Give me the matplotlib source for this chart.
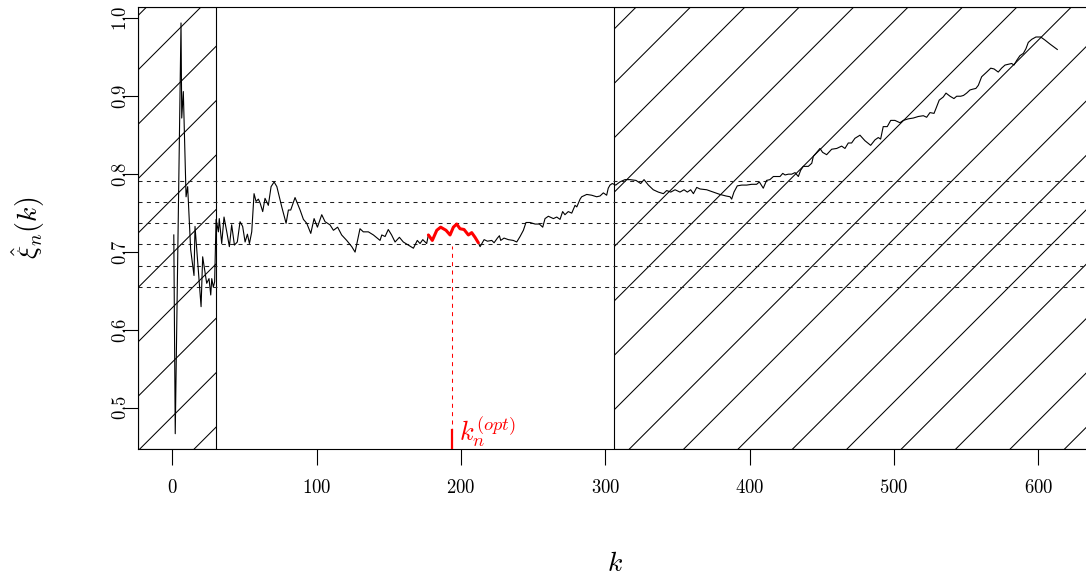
import numpy as np
import matplotlib
matplotlib.use('Agg')
import matplotlib.pyplot as plt
from matplotlib.patches import Rectangle

plt.rcParams['mathtext.fontset'] = 'cm'
plt.rcParams['lines.scale_dashes'] = False

# ---------------- data ----------------
k = [1, 2, 6, 6.5, 7.6, 9.5, 10.6, 12.7, 15, 15.7, 19.9, 21, 23.8, 25.4, 26.6, 27.3, 28.4, 29.3, 30.3,
     31.9, 32.5, 34.2, 35.8, 37.7, 39.5, 41.1, 43, 45, 46.9, 48.7, 50.4, 52, 53.4, 55, 56.6, 58, 59.6,
     60.8, 62.6, 64.2, 66.5, 68.4, 70.5, 72.4, 75.8, 78.8, 80.4, 82, 85, 88.5, 90.8, 93.1, 95.9, 98.2,
     100.5, 103.5, 105.8, 109.2, 111.6, 114.5, 117.3, 120.8, 124.3, 126.6, 130, 132.3, 135.8, 139.3,
     143.9, 145.1, 147.4, 149.6, 151.9, 154.3, 157.3, 160, 163.5, 167, 169.7, 171.6, 173.5, 176.2,
     177.4, 180.1, 183.2, 185.9, 189.6, 192.4, 194.7, 197, 199.3, 202.1, 205.1, 207.4, 209.7, 212,
     213.2, 216, 218.3, 221.3, 222.9, 225.2, 226.6, 227.5, 229.8, 232.8, 236.2, 238.6, 240.9, 243.2,
     245, 247.8, 251.3, 254.3, 256.6, 258.2, 260.5, 264, 266.3, 268.6, 270.4, 272, 274.3, 276.7, 279,
     280.2, 282.5, 283.6, 287.1, 290.5, 294, 296.3, 298.6, 300.9, 302, 303.2, 304.8, 307.2, 310,
     313.6, 317, 321.2, 324.5, 326.8, 329.8, 333.2, 336.7, 340.2, 342.5, 345.3, 348.3, 351.7, 354.5,
     356.8, 359.1, 361, 363.3, 365.6, 370.2, 374.8, 379.4, 383.6, 386.4, 387.5, 389.1, 391.4, 394.5,
     397.9, 401.4, 404.8, 406.7, 409.4, 411.7, 414, 416.4, 418.7, 421, 422.9, 424.5, 426.8, 429.1,
     431.4, 433.7, 435.3, 437.1, 440.6, 443, 444.1, 446, 448.7, 450.5, 453.3, 456.8, 460.3, 463.7,
     466, 468.3, 470.6, 472.9, 476.4, 479.8, 483.8, 486.8, 489.1, 490.7, 492.5, 495.3, 497.7, 500.6,
     504.1, 506.4, 509.9, 513.3, 516.8, 520.3, 522.6, 524.9, 527.7, 529, 531.3, 534.1, 536, 538.8,
     541.5, 543.4, 546.2, 548.1, 550.3, 552.6, 554.4, 556.7, 558.4, 560.7, 564.2, 567, 569.3, 572.2,
     574.5, 576.9, 579.2, 581.5, 583.1, 585, 587.2, 589.6, 591.4, 593, 595.4, 598.3, 601.6, 604.6,
     608, 613.1]
xi = [0.722, 0.467, 0.994, 0.872, 0.906, 0.771, 0.784, 0.703, 0.670, 0.733, 0.630, 0.694, 0.660, 0.666,
      0.645, 0.666, 0.655, 0.662, 0.742,
      0.726, 0.743, 0.711, 0.745, 0.726, 0.707, 0.735, 0.709, 0.713, 0.739, 0.733, 0.713, 0.723, 0.711,
      0.726, 0.775, 0.765, 0.768, 0.763, 0.752, 0.769, 0.760, 0.784, 0.790, 0.784, 0.758, 0.737, 0.754,
      0.754, 0.770, 0.754, 0.742, 0.737, 0.724, 0.743, 0.732, 0.748, 0.739, 0.735, 0.728, 0.732, 0.722,
      0.715, 0.707, 0.700, 0.730, 0.726, 0.726, 0.722, 0.715, 0.722, 0.720, 0.729, 0.722, 0.713, 0.719,
      0.713, 0.709, 0.705, 0.715, 0.711, 0.716, 0.711,
      0.722, 0.715, 0.728, 0.732, 0.728, 0.722, 0.732, 0.736, 0.730, 0.729, 0.722, 0.725, 0.719, 0.712,
      0.707, 0.716, 0.714, 0.715, 0.712, 0.718, 0.721, 0.715, 0.718, 0.716, 0.715, 0.713, 0.720, 0.728,
      0.738, 0.738, 0.736, 0.736, 0.732, 0.743, 0.746, 0.743, 0.745, 0.742, 0.752, 0.748, 0.752, 0.750,
      0.760, 0.758, 0.768, 0.771, 0.774, 0.773, 0.771, 0.772, 0.776, 0.773, 0.782, 0.786, 0.788, 0.786,
      0.790, 0.793, 0.793, 0.792, 0.788, 0.793, 0.786, 0.780, 0.777, 0.775, 0.779, 0.777, 0.780, 0.777,
      0.780, 0.777, 0.780, 0.775, 0.783, 0.781, 0.780, 0.777, 0.774, 0.772, 0.771, 0.768, 0.777, 0.785,
      0.786, 0.786, 0.787, 0.787, 0.790, 0.782, 0.792, 0.793, 0.797, 0.797, 0.797, 0.801, 0.799, 0.800,
      0.800, 0.802, 0.797, 0.805, 0.810, 0.810, 0.814, 0.823, 0.827, 0.833, 0.828, 0.825, 0.832, 0.833,
      0.836, 0.833, 0.840, 0.840, 0.846, 0.850, 0.843, 0.837, 0.844, 0.847, 0.845, 0.861, 0.861, 0.869,
      0.869, 0.866, 0.869, 0.871, 0.872, 0.874, 0.875, 0.873, 0.879, 0.878, 0.884, 0.895, 0.899, 0.904,
      0.900, 0.897, 0.900, 0.900, 0.901, 0.904, 0.908, 0.909, 0.910, 0.914, 0.925, 0.931, 0.936, 0.935,
      0.931, 0.936, 0.940, 0.941, 0.942, 0.940, 0.946, 0.952, 0.955, 0.961, 0.969, 0.973, 0.976, 0.976,
      0.972, 0.967, 0.960]
ref_levels = [0.6555, 0.6824, 0.7099, 0.7368, 0.7638, 0.7911]
k_opt = 194
xi_opt_level = 0.708
red_window = (177, 212.5)
left_cut = 30
right_cut = 306
xticks = [0, 100, 200, 300, 400, 500, 600]
xticklabels = ['0', '100', '200', '300', '400', '500', '600']
yticks = [0.5, 0.6, 0.7, 0.8, 0.9, 1.0]
yticklabels = ['0.5', '0.6', '0.7', '0.8', '0.9', '1.0']

# ---------------- figure ----------------
W, H = 1086, 579
fig = plt.figure(figsize=(W / 100, H / 100), dpi=100)
ax_l, ax_r, ax_t, ax_b = 138.0, 1092.5, 7.3, 449.3
ax = fig.add_axes([ax_l / W, (H - ax_b) / H, (ax_r - ax_l) / W, (ax_b - ax_t) / H])
xlim = (-23.8, 637.5)
ylim = (0.447, 1.0141)
ax.set_xlim(*xlim)
ax.set_ylim(*ylim)

for s in ax.spines.values():
    s.set_linewidth(0.8)


def hatch(x0, x1, spacing=54.4, c0=208.0):
    rect = Rectangle((x0, ylim[0]), x1 - x0, ylim[1] - ylim[0], fill=False,
                     edgecolor='black', lw=0.8, zorder=1.5)
    ax.add_patch(rect)
    p0 = ax.transData.transform((x0, ylim[0]))
    p1 = ax.transData.transform((x1, ylim[1]))
    cmin = p0[0] + H - p1[1]
    cmax = p1[0] + H - p0[1]
    inv = ax.transData.inverted()
    n0 = int(np.ceil((cmin - c0) / spacing))
    n1 = int(np.floor((cmax - c0) / spacing))
    for n in range(n0, n1 + 1):
        c = c0 + n * spacing
        xs = np.array([p0[0] - 20, p1[0] + 20])
        ys = xs + H - c
        d = inv.transform(np.column_stack([xs, ys]))
        ln, = ax.plot(d[:, 0], d[:, 1], color='black', lw=0.75, zorder=1)
        ln.set_clip_path(rect)


hatch(xlim[0], left_cut)
hatch(right_cut, xlim[1] + 30)

for lv in ref_levels:
    ax.axhline(lv, color='#222222', lw=0.75, dashes=(2.9, 3.1), zorder=2)

ka = np.array(k)
xa = np.array(xi)
ax.plot(ka, xa, color='black', lw=0.8, zorder=3)
m = (ka >= red_window[0]) & (ka <= red_window[1])
ax.plot(ka[m], xa[m], color='red', lw=2.2, zorder=4, solid_capstyle='round')

ax.plot([k_opt, k_opt], [ylim[0], xi_opt_level], color='red', lw=0.75, dashes=(2.9, 3.1), zorder=4)
ax.plot([k_opt, k_opt], [ylim[0], 0.4716], color='red', lw=1.6, zorder=4)
ax.text(198.3, 0.4587, r'$k_n^{(opt)}$', color='red', fontsize=19, ha='left', va='baseline', zorder=5)

ax.set_xticks(xticks)
ax.set_xticklabels(['$' + t + '$' for t in xticklabels])
ax.set_yticks(yticks)
ax.set_yticklabels(['$' + t + '$' for t in yticklabels], rotation=90, va='center')
ax.tick_params(axis='both', direction='out', length=11.5, width=0.8, labelsize=13.5)
ax.tick_params(axis='x', pad=9)
ax.tick_params(axis='y', pad=-6)

fig.text(615 / W, 1 - 563 / H, r'$k$', fontsize=20, ha='center', va='center')
fig.text(28 / W, 1 - 228 / H, r'$\hat{\xi}_n(k)$', fontsize=20, ha='center', va='center', rotation=90)

fig.savefig('out.png', dpi=100)
